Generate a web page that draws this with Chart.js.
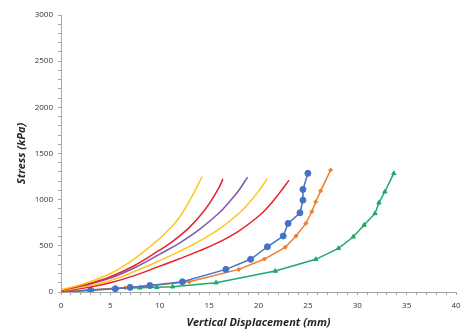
<!DOCTYPE html>
<html>
<head>
<meta charset="utf-8">
<script src="https://cdn.jsdelivr.net/npm/chart.js@4"></script>
<style>
  html, body { margin: 0; padding: 0; background: #fff; }
  #wrap { width: 461px; height: 330px; }
</style>
</head>
<body>
<div id="wrap"><canvas id="stress-chart"></canvas></div>
<script>
// Smooth model curves (no markers)
const yellow1X = [0, 2.5, 5, 7.5, 10, 11, 12, 13, 14.3];
const yellow1Y = [25, 95, 200, 365, 580, 685, 810, 985, 1250];
const red1X = [0, 2.5, 5, 7.5, 10, 11, 12, 13, 14, 15, 16, 16.4];
const red1Y = [20, 80, 165, 290, 455, 525, 605, 700, 815, 955, 1130, 1225];
const purpleX = [0, 2.5, 5, 7.5, 10, 12, 14, 16, 17, 18, 18.9];
const purpleY = [20, 75, 150, 265, 410, 530, 675, 855, 970, 1100, 1245];
const yellow2X = [0, 2.5, 5, 7.5, 10, 12, 14, 16, 18, 19, 20, 20.9];
const yellow2Y = [15, 60, 125, 225, 340, 440, 550, 680, 850, 960, 1090, 1230];
const red2X = [0, 2.5, 5, 7.5, 10, 12, 14, 16, 18, 20, 21, 22, 23.1];
const red2Y = [10, 45, 100, 180, 280, 360, 445, 540, 660, 820, 925, 1055, 1212];

// Measured series (with markers)
const blueX = [0, 3, 5.5, 7, 9, 12.3, 16.7, 19.2, 20.9, 22.5, 23, 24.2, 24.5, 24.5, 25];
const blueY = [0, 20, 35, 50, 70, 111, 245, 354, 490, 606, 743, 858, 995, 1111, 1285];
const orangeX = [0, 3, 6.5, 9.2, 13, 18, 20.6, 22.7, 23.8, 24.8, 25.4, 25.8, 26.3, 27.3];
const orangeY = [0, 25, 45, 70, 111, 245, 357, 484, 606, 743, 869, 977, 1096, 1320];
const greenX = [0, 3, 5.5, 8, 9.7, 11.3, 15.7, 21.7, 25.8, 28.1, 29.6, 30.7, 31.8, 32.2, 32.8, 33.7];
const greenY = [0, 20, 40, 45, 51, 57, 101, 227, 354, 473, 598, 725, 851, 967, 1086, 1285];

// Axis limits and label steps
const xMin = 0, xMax = 40, xMinorStep = 1, xLabelStep = 5;
const yMin = 0, yMax = 3000, yMinorStep = 100, yLabelStep = 500;

function toPoints(xs, ys) {
    return xs.map((x, i) => ({ x: x, y: ys[i] }));
}

function curve(xs, ys, color) {
    return {
        data: toPoints(xs, ys),
        borderColor: color,
        borderWidth: 1.5,
        pointRadius: 0,
        fill: false,
        tension: 0.4
    };
}

function measured(xs, ys, color, style, radius) {
    return {
        data: toPoints(xs, ys),
        borderColor: color,
        backgroundColor: color,
        borderWidth: 1.5,
        pointStyle: style,
        pointRadius: radius,
        pointBorderWidth: 1,
        fill: false,
        tension: 0
    };
}

const tickFont = { family: 'Open Sans', size: 8 };
const titleFont = { family: 'Open Sans', size: 11, weight: 'bold', style: 'italic' };

const ctx = document.getElementById('stress-chart').getContext('2d');
new Chart(ctx, {
    type: 'line',
    data: {
        datasets: [
            curve(yellow1X, yellow1Y, '#FFC61E'),
            curve(red1X, red1Y, '#E8202A'),
            curve(purpleX, purpleY, '#7F56B5'),
            curve(yellow2X, yellow2Y, '#FFC61E'),
            curve(red2X, red2Y, '#E8202A'),
            measured(blueX, blueY, '#4472C4', 'circle', 3),
            measured(orangeX, orangeY, '#ED7D31', 'rectRot', 2),
            measured(greenX, greenY, '#20A86B', 'triangle', 2.5)
        ]
    },
    options: {
        responsive: true,
        maintainAspectRatio: false,
        animation: false,
        layout: { padding: { top: 15, right: 4, left: 0, bottom: 0 } },
        plugins: {
            legend: { display: false },
            tooltip: { enabled: false }
        },
        scales: {
            x: {
                type: 'linear',
                min: xMin,
                max: xMax,
                afterFit: (scale) => {
                    scale.height = 38;
                    scale.paddingRight = 0;  // let the "40" label run off the edge like the original
                    scale.paddingLeft = 0;
                },
                border: { color: '#a6a6a6', width: 1 },
                grid: { drawOnChartArea: false, tickLength: 3, color: '#a6a6a6' },
                ticks: {
                    stepSize: xMinorStep,
                    autoSkip: false,
                    maxRotation: 0,
                    padding: 6,
                    color: '#333',
                    font: tickFont,
                    callback: (v) => (v % xLabelStep === 0 ? v : '')
                },
                title: {
                    display: true,
                    text: 'Vertical Displacement (mm)',
                    color: '#262626',
                    font: titleFont,
                    padding: { top: 0, bottom: 1 }
                }
            },
            y: {
                type: 'linear',
                min: yMin,
                max: yMax,
                afterFit: (scale) => { scale.width = 61; },
                border: { color: '#a6a6a6', width: 1 },
                grid: { drawOnChartArea: false, tickLength: 3, color: '#a6a6a6' },
                ticks: {
                    stepSize: yMinorStep,
                    autoSkip: false,
                    padding: 5,
                    color: '#333',
                    font: tickFont,
                    callback: (v) => (v % yLabelStep === 0 ? v : '')
                },
                title: {
                    display: true,
                    text: 'Stress (kPa)',
                    color: '#262626',
                    font: titleFont,
                    padding: { top: 15, bottom: 0 }
                }
            }
        }
    }
});
</script>
</body>
</html>
